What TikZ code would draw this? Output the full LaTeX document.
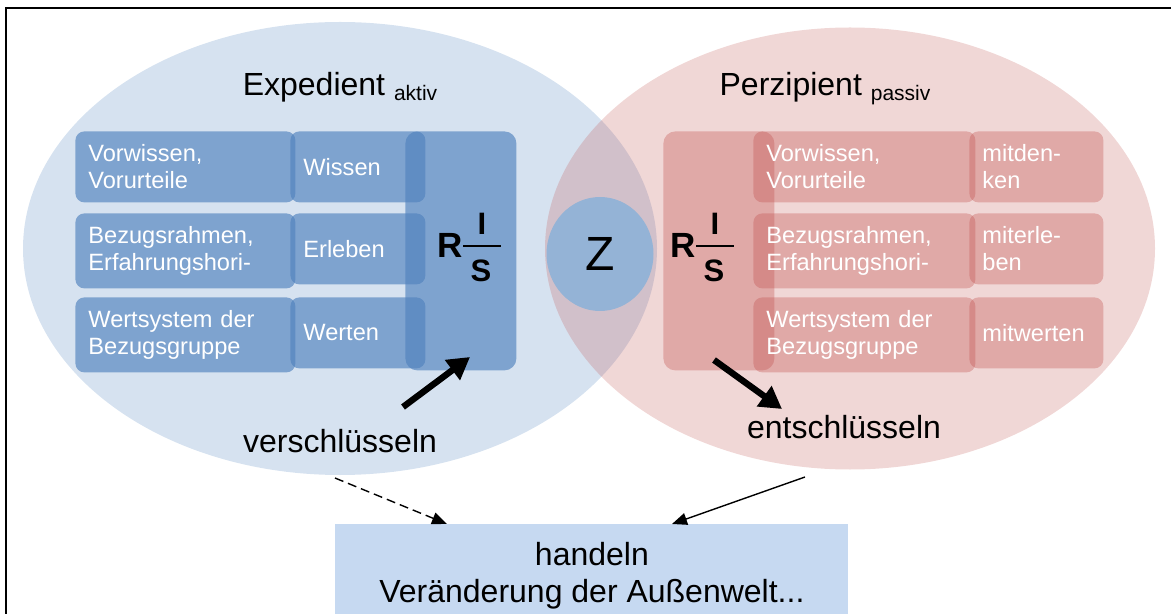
\documentclass[tikz,border=0pt]{standalone}
\usepackage{fontspec}
\setmainfont{Liberation Sans}
\usetikzlibrary{shapes.geometric,arrows.meta}
\definecolor{officeblue}{RGB}{79,129,189}
\definecolor{officered}{RGB}{192,80,77}
\definecolor{zblue}{RGB}{148,179,214}
\definecolor{actblue}{RGB}{198,217,241}
\begin{document}
\begin{tikzpicture}[x=0.5pt,y=-0.5pt,
        oval/.style={ellipse,inner sep=0pt,fill opacity=0.23},
        cell/.style={anchor=north west,rounded corners=4.5pt,minimum height=35.5pt,inner sep=6.5pt,
            align=left,text=white,text opacity=1,font=\fontsize{11.8}{13.5}\selectfont},
        bluecell/.style={cell,fill=officeblue,fill opacity=0.65},
        redcell/.style={cell,fill=officered,fill opacity=0.34},
        tallbox/.style={anchor=north west,rounded corners=6pt,minimum width=55.5pt,minimum height=119.5pt,inner sep=0pt},
        big/.style={font=\fontsize{16}{18.5}\selectfont},
        thickarrow/.style={line width=3.2pt,-{Triangle[length=11pt,width=12pt]}},
        thinarrow/.style={line width=0.7pt,-{Triangle[length=7.5pt,width=6pt]}}]
    \useasboundingbox (0,0) rectangle (1171,614);
    \draw[line width=0.75pt] (1171,8) -- (6,8) -- (6,614);
    % sender and receiver
    \node[oval,fill=officeblue,minimum width=317pt,minimum height=226.5pt] (send) at (340,248.5) {};
    \node[oval,fill=officered,minimum width=305pt,minimum height=221pt] (recv) at (850,248.5) {};
    \node[ellipse,fill=zblue,minimum width=53.5pt,minimum height=57pt,inner sep=0pt,
        font=\fontsize{24}{24}\selectfont] (Z) at (600,254) {Z};
    \node[big,anchor=base] (expd) at (340,96) {Expedient \raisebox{-2.4pt}{\fontsize{10.5}{12}\selectfont aktiv}};
    \node[big,anchor=base] (perz) at (825,96) {Perzipient \raisebox{-2.4pt}{\fontsize{10.5}{12}\selectfont passiv}};
    % boxes
    \foreach \n/\y/\a/\b in {1/131/{Vorwissen,\\Vorurteile}/Wissen,
            2/213/{Bezugsrahmen,\\Erfahrungshori-}/Erleben,
            3/297/{Wertsystem der\\Bezugsgruppe}/Werten}
        \node[bluecell,text width=97pt] (L-\n) at (75,\y) {\a}
        node[bluecell,text width=54.5pt] (LW-\n) at (290,\y) {\b};
    \node[tallbox,fill=officeblue,fill opacity=0.65] (LT) at (405,131) {};
    \node[tallbox,fill=officered,fill opacity=0.34] (PT) at (663,131) {};
    \foreach \n/\y/\a/\b in {1/131/{Vorwissen,\\Vorurteile}/{mitden-\\ken},
            2/213/{Bezugsrahmen,\\Erfahrungshori-}/{miterle-\\ben},
            3/297/{Wertsystem der\\Bezugsgruppe}/mitwerten}
        \node[redcell,text width=98pt] (P-\n) at (753,\y) {\a}
        node[redcell,text width=54pt] (PW-\n) at (969,\y) {\b};
    % R I/S
    \foreach \s/\x in {L/437, P/670} {
        \node[anchor=base west,inner sep=0pt,font=\fontsize{17.5}{18}\selectfont\bfseries] (R\s) at (\x,258) {R};
        \node[anchor=base,inner sep=0pt,font=\fontsize{15.5}{18}\selectfont\bfseries] (I\s) at (\x+45,235) {I};
        \node[anchor=base,inner sep=0pt,font=\fontsize{15.5}{18}\selectfont\bfseries] (S\s) at (\x+44,282) {S};
        \draw[line width=0.6pt] (\x+26,246) -- (\x+64,246);
    }
    % coding
    \coordinate (encA) at (403,407);
    \coordinate (encB) at (470,357);
    \coordinate (decA) at (714,360);
    \coordinate (decB) at (782,409);
    \draw[thickarrow] (encA) -- (encB);
    \draw[thickarrow] (decA) -- (decB);
    \node[big,anchor=base] (enc) at (340,452) {verschlüsseln};
    \node[big,anchor=base] (dec) at (844,438) {entschlüsseln};
    % action
    \node[anchor=north west,fill=actblue,minimum width=256.5pt,minimum height=51pt,inner sep=0pt,
        align=center,big] (act) at (335,524) {handeln\\Veränderung der Außenwelt...};
    \coordinate (encEnd) at (335,478);
    \coordinate (decEnd) at (805,477);
    \coordinate (actL) at (447,524);
    \coordinate (actR) at (672,524);
    \draw[thinarrow,dash pattern=on 4.5pt off 2.5pt] (encEnd) -- (actL);
    \draw[thinarrow] (decEnd) -- (actR);
\end{tikzpicture}
\end{document}
